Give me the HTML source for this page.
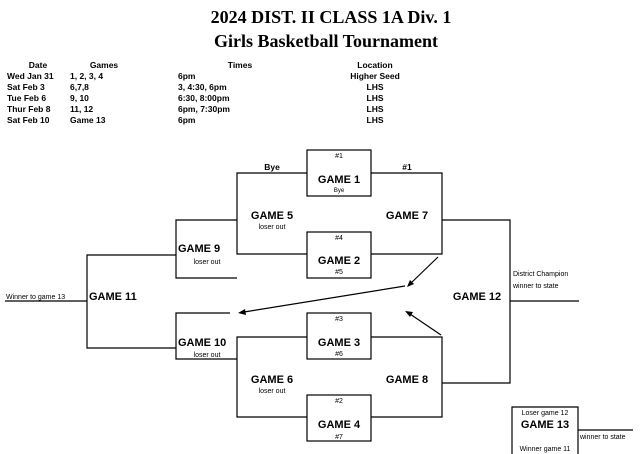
<!DOCTYPE html>
<html><head><meta charset="utf-8"><style>
html,body{margin:0;padding:0;background:#fff;}
svg{display:block;}
text{font-family:"Liberation Sans",Arial,sans-serif;fill:#000;}
.t{font-family:"Liberation Serif",serif;font-weight:bold;font-size:18px;}
.h{font-size:8.5px;font-weight:bold;}
.g{font-size:11px;font-weight:bold;}
.s{font-size:7px;}
.xs{font-size:6px;}
</style></head><body>
<svg width="640" height="454" viewBox="0 0 640 454">
<text class="t" x="331" y="23" text-anchor="middle">2024 DIST. II CLASS 1A Div. 1</text>
<text class="t" x="326" y="47" text-anchor="middle">Girls Basketball Tournament</text>
<g class="h">
<text x="38" y="68" text-anchor="middle" class="h">Date</text>
<text x="104" y="68" text-anchor="middle" class="h">Games</text>
<text x="240" y="68" text-anchor="middle" class="h">Times</text>
<text x="375" y="68" text-anchor="middle" class="h">Location</text>
<text x="7" y="79" class="h">Wed Jan 31</text><text x="70" y="79" class="h">1, 2, 3, 4</text><text x="178" y="79" class="h">6pm</text><text x="375" y="79" text-anchor="middle" class="h">Higher Seed</text>
<text x="7" y="90" class="h">Sat Feb 3</text><text x="70" y="90" class="h">6,7,8</text><text x="178" y="90" class="h">3, 4:30, 6pm</text><text x="375" y="90" text-anchor="middle" class="h">LHS</text>
<text x="7" y="101" class="h">Tue Feb 6</text><text x="70" y="101" class="h">9, 10</text><text x="178" y="101" class="h">6:30, 8:00pm</text><text x="375" y="101" text-anchor="middle" class="h">LHS</text>
<text x="7" y="112" class="h">Thur Feb 8</text><text x="70" y="112" class="h">11, 12</text><text x="178" y="112" class="h">6pm, 7:30pm</text><text x="375" y="112" text-anchor="middle" class="h">LHS</text>
<text x="7" y="123" class="h">Sat Feb 10</text><text x="70" y="123" class="h">Game 13</text><text x="178" y="123" class="h">6pm</text><text x="375" y="123" text-anchor="middle" class="h">LHS</text>
</g>
<g stroke="#000" stroke-width="1.2" fill="none">
<rect x="307" y="150" width="64" height="46"/>
<rect x="307" y="232" width="64" height="46"/>
<rect x="307" y="313" width="64" height="46"/>
<rect x="307" y="395" width="64" height="46"/>
<polyline points="307,173 237,173 237,254 307,254"/>
<polyline points="371,173 442,173 442,254 371,254"/>
<polyline points="307,337 237,337 237,417 307,417"/>
<polyline points="371,337 442,337 442,417 371,417"/>
<polyline points="237,220 176,220 176,278 237,278"/>
<polyline points="237,359 176,359 176,313 230,313"/>
<polyline points="176,255 87,255 87,348 176,348"/>
<line x1="5" y1="301" x2="87" y2="301"/>
<polyline points="442,220 510,220 510,383 442,383"/>
<line x1="510" y1="301" x2="579" y2="301"/>
<polyline points="578,454 578,407 512,407 512,454"/>
<line x1="578" y1="430" x2="633" y2="430"/>
<line x1="438" y1="257" x2="410" y2="284"/>
<line x1="405" y1="286" x2="244" y2="312"/>
<line x1="441" y1="335" x2="410" y2="314"/>
</g>
<g fill="#000">
<polygon points="407,287 410,280 414,284"/>
<polygon points="238,313 245,309 246,315"/>
<polygon points="405,311 413,312 410,317"/>
</g>
<text class="s" x="339" y="158" text-anchor="middle">#1</text>
<text class="g" x="339" y="183" text-anchor="middle">GAME 1</text>
<text class="xs" x="339" y="192" text-anchor="middle">Bye</text>
<text class="s" x="339" y="240" text-anchor="middle">#4</text>
<text class="g" x="339" y="264" text-anchor="middle">GAME 2</text>
<text class="s" x="339" y="274" text-anchor="middle">#5</text>
<text class="s" x="339" y="321" text-anchor="middle">#3</text>
<text class="g" x="339" y="346" text-anchor="middle">GAME 3</text>
<text class="s" x="339" y="356" text-anchor="middle">#6</text>
<text class="s" x="339" y="403" text-anchor="middle">#2</text>
<text class="g" x="339" y="428" text-anchor="middle">GAME 4</text>
<text class="s" x="339" y="439" text-anchor="middle">#7</text>
<text class="h" x="272" y="170" text-anchor="middle">Bye</text>
<text class="h" x="407" y="170" text-anchor="middle">#1</text>
<text class="g" x="272" y="219" text-anchor="middle">GAME 5</text>
<text class="s" x="272" y="229" text-anchor="middle">loser out</text>
<text class="g" x="407" y="219" text-anchor="middle">GAME 7</text>
<text class="g" x="178" y="252">GAME 9</text>
<text class="s" x="207" y="264" text-anchor="middle">loser out</text>
<text class="g" x="178" y="346">GAME 10</text>
<text class="s" x="207" y="357" text-anchor="middle">loser out</text>
<text class="g" x="272" y="383" text-anchor="middle">GAME 6</text>
<text class="s" x="272" y="393" text-anchor="middle">loser out</text>
<text class="g" x="407" y="383" text-anchor="middle">GAME 8</text>
<text class="g" x="89" y="300">GAME 11</text>
<text class="s" x="6" y="299">Winner to game 13</text>
<text class="g" x="477" y="300" text-anchor="middle">GAME 12</text>
<text class="s" x="513" y="276">District Champion</text>
<text class="s" x="513" y="288">winner to state</text>
<text class="s" x="545" y="415" text-anchor="middle">Loser game 12</text>
<text class="g" x="545" y="428" text-anchor="middle">GAME 13</text>
<text class="s" x="545" y="451" text-anchor="middle">Winner game 11</text>
<text class="s" x="580" y="439">winner to state</text>
</svg>
</body></html>
